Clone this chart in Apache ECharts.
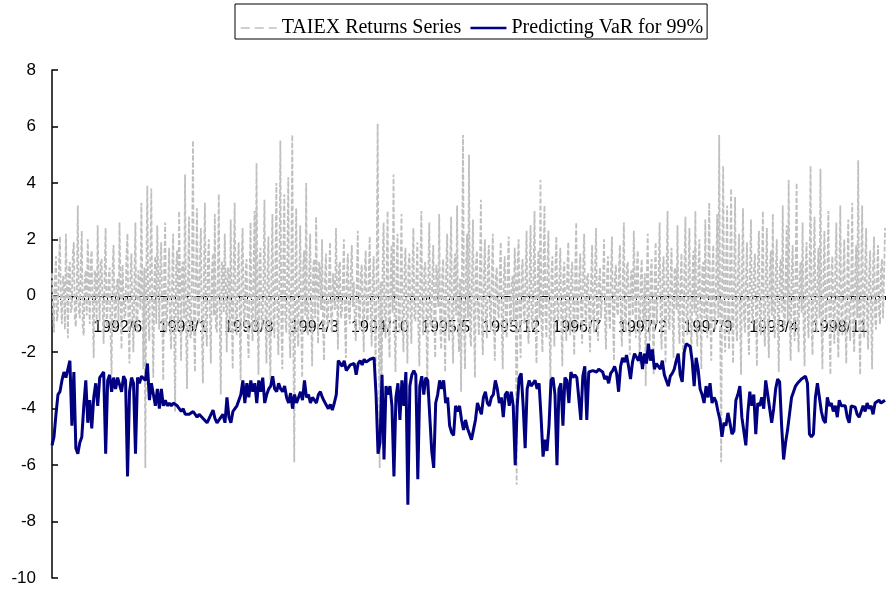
<!DOCTYPE html>
<html>
<head>
<meta charset="utf-8">
<script src="https://cdn.jsdelivr.net/npm/echarts@6/dist/echarts.min.js"></script>
<style>
  html, body { margin: 0; padding: 0; background: #fff; }
  #chart { width: 887px; height: 589px; }
</style>
</head>
<body>
<div id="chart"></div>
<script>
// labels shown under the zero line, one every 33 VaR points
const tickLabels = ['1992/6', '1993/1', '1993/8', '1994/3', '1994/10', '1995/5',
  '1995/12', '1996/7', '1997/2', '1997/9', '1998/4', '1998/11']
const labelStep = 33

// TAIEX daily returns (%)
const returnsSeries = [
  0.8, -0.4, -1.3, 0.6, 1.4, -0.9, -0.6, 1.1, 2.1, -0.3, -1.0, 0.7, 0.5, -1.2, 2.2, 0.4, -1.5, 0.9, 1.2, -0.6,
  -0.4, 1.5, 1.9, -0.8, -1.1, 0.3, 3.2, -0.5, -0.8, 1.0, 2.3, -1.2, -1.4, 0.6, 0.9, -0.7, 2.0, 0.5, -1.0, 1.3,
  1.6, -0.6, -2.2, 0.9, 0.7, -1.0, 2.5, 0.2, -0.9, 1.2, 1.3, -0.5, -1.7, 0.8, 2.4, -1.1, -0.5, 0.6, 1.0, -1.4,
  -2.8, 0.9, 1.8, -0.7, -1.2, 0.4, 0.6, -0.9, 2.6, 0.3, -1.9, 1.1, 1.1, -0.8, -0.7, 1.4, 2.2, -1.0, -2.4, 0.7,
  1.5, -0.8, -2.0, 0.6, 2.6, -1.1, -1.3, 0.9, 0.9, -0.5, 3.3, 0.4, -2.6, 1.0, -6.1, 0.8, 3.9, -0.9, -1.6, 1.2,
  3.8, -0.7, -2.9, 0.5, 1.4, -1.0, 2.5, 0.7, -1.2, 1.1, 1.9, -0.6, -3.0, 0.9, 2.6, -1.3, -0.8, 0.4, 1.7, -1.1,
  -1.9, 0.7, 2.2, -0.9, -4.1, 1.0, 1.6, -1.2, 3.0, 0.5, -2.3, 1.1, 1.2, -0.8, 4.3, -1.0, -3.3, 0.6, 2.8, -1.4,
  -1.5, 0.9, 5.5, -1.2, -2.7, 0.8, 3.1, -0.6, -1.0, 1.3, 2.4, -1.5, -3.1, 0.7, 3.3, -0.9, -1.8, 1.2, 2.0, -0.7,
  -2.4, 0.8, 1.5, -0.7, 2.9, -1.1, -1.3, 0.6, 3.6, -0.9, -3.5, 1.2, 1.1, -0.6, 2.2, 0.4, -2.0, 1.0, 0.8, -1.3,
  2.7, -0.5, -2.6, 1.1, 3.3, -1.0, -1.4, 0.7, 1.9, -0.8, -3.0, 1.3, 2.4, -0.6, -1.1, 0.9, 1.3, -1.2, -2.2, 0.6,
  2.6, -0.8, -1.6, 0.9, 3.0, -1.2, 4.7, -0.6, -2.8, 1.3, 1.7, -0.9, -1.2, 0.7, 3.4, -1.0, -2.4, 0.8, 2.1, -1.4,
  -3.0, 1.0, 2.9, -0.7, -1.5, 1.2, 4.0, -0.9, -2.1, 0.6, 5.5, -1.1, -2.6, 1.4, 3.6, -0.8, -1.3, 1.0, 4.2, -1.2,
  -2.2, 0.9, 5.7, -1.0, -5.9, 0.8, 3.1, -1.2, -1.8, 0.6, 2.5, -0.9, -2.9, 1.1, 1.6, -0.7, 4.0, -1.3, -1.4, 0.8,
  2.2, -0.6, -2.5, 1.0, 1.3, -0.8, 2.8, 0.5, -1.7, 1.2, 0.9, -0.5, 2.0, -1.1, -2.3, 0.7, 1.5, -0.9, -1.1, 0.6,
  1.9, -0.7, -1.3, 0.8, 0.8, -0.5, 2.4, 0.3, -1.9, 1.0, 1.2, -0.8, -0.6, 0.5, 2.0, -0.9, -2.2, 0.7, 1.5, -0.6,
  -1.0, 0.9, 1.8, -0.4, 0.5, -1.1, -1.6, 0.6, 2.3, -0.7, -1.2, 0.8, 1.1, -0.5, -2.0, 0.9, 1.6, -0.8, -0.9, 0.7,
  2.1, -0.8, -1.8, 0.6, 1.4, -0.9, -2.5, 1.0, 6.1, -0.7, -6.1, 0.5, -3.7, 1.1, 2.6, -0.9, -1.5, 0.8, 3.0, -1.1,
  -2.2, 0.7, 1.8, -0.6, 4.3, -1.2, -2.7, 1.0, 2.2, -0.8, -1.3, 0.6, 2.9, -1.0, -2.0, 0.9, 1.7, -0.7, -2.4, 1.1,
  1.5, -0.6, -1.7, 0.9, 2.4, -0.8, -0.9, 0.6, 1.9, -1.1, -2.5, 0.8, 3.0, -0.7, -1.4, 1.0, 1.2, -0.5, -3.5, 0.7,
  2.6, -1.0, -1.1, 0.6, 1.8, -0.9, -2.2, 1.1, 0.8, -0.4, 2.9, -1.2, -1.9, 0.7, 1.3, -0.8, -2.7, 0.9, 2.2, -0.6,
  -1.6, 0.8, 2.8, -0.9, -2.4, 1.0, 1.5, -0.7, 3.2, -1.1, -2.0, 0.6, -3.4, 1.2, 5.7, -1.0, -2.6, 0.9, 2.2, -0.8,
  5.0, -1.3, -1.8, 0.7, 2.7, -0.9, -2.9, 1.1, 1.6, -0.6, -1.4, 0.8, 3.4, -1.2, -2.1, 0.7, 2.0, -0.9, -1.5, 1.0,
  1.8, -0.6, -1.2, 0.8, 2.2, -0.9, -2.3, 0.7, 1.0, -0.5, -0.8, 0.9, 1.9, -1.1, -2.6, 0.6, 1.4, -0.8, -1.5, 1.0,
  2.1, -0.7, -1.1, 0.5, 0.7, -0.9, 1.7, 0.6, -6.7, 1.2, 2.0, -0.8, -2.2, 0.9, 1.3, -0.6, -1.0, 0.8, 2.3, -1.1,
  -1.7, 0.7, 2.5, -0.9, -1.2, 0.8, 3.0, -1.0, -2.4, 0.6, 1.6, -0.8, 4.1, -1.1, -2.0, 0.9, 3.2, -0.7, -1.5, 1.0,
  2.3, -1.2, -3.0, 0.8, 1.4, -0.6, -1.8, 0.9, 2.1, -0.7, -0.9, 0.6, 1.7, -1.0, -2.5, 0.8, 1.2, -0.6, -1.6, 0.9,
  1.9, -0.7, -1.4, 0.8, 1.2, -0.6, -2.1, 0.9, 2.6, -1.0, -0.9, 0.6, 1.5, -0.8, -1.7, 1.0, 2.2, -0.5, -1.1, 0.7,
  0.8, -0.9, -2.0, 0.6, 1.8, -0.7, -1.3, 0.9, 2.4, -1.0, -1.6, 0.5, 1.0, -0.8, -0.8, 0.6, 2.0, -0.9, -1.9, 0.7,
  1.4, -0.6, -1.2, 0.8, 2.1, -0.9, -2.3, 0.7, 1.1, -0.5, -0.7, 0.9, 1.8, -1.0, -1.8, 0.6, 2.6, -0.8, -1.3, 1.0,
  1.2, -0.6, -2.1, 0.8, 0.9, -0.7, 2.3, 0.5, -1.5, 0.9, 1.6, -0.8, -2.4, 0.7, 1.3, -0.6, -1.0, 0.8, -3.2, 0.6,
  2.2, -0.7, -1.6, 0.9, 1.3, -0.8, -2.8, 0.6, 1.9, -1.0, -1.0, 0.7, 2.6, -0.9, -1.9, 0.8, 1.4, -0.6, -2.4, 1.0,
  3.0, -1.1, -1.2, 0.7, 1.7, -0.8, -2.2, 0.9, 1.0, -0.5, 2.5, -0.9, -1.7, 0.6, 1.5, -0.8, -2.6, 1.1, 2.8, -0.7,
  -1.4, 0.8, 2.4, -0.9, -2.2, 0.7, 1.6, -0.6, 3.0, -1.1, -1.8, 0.9, 2.0, -0.7, -2.6, 1.0, 1.2, -0.8, 2.7, -0.6,
  -1.5, 1.1, 3.3, -0.9, -2.3, 0.8, 1.8, -0.7, -1.2, 1.0, 2.9, -0.8, 5.7, -1.0, -5.9, 0.9, 4.6, -0.7, -2.0, 1.2,
  3.2, -0.9, -1.9, 1.0, 3.8, -0.8, -2.4, 0.7, 3.5, -1.1, -1.6, 0.9, 2.2, -0.7, -2.8, 1.0, 3.1, -0.8, -1.3, 0.6,
  1.9, -1.0, -2.1, 0.8, 2.7, -0.6, -1.0, 0.9, 1.5, -0.7, -2.5, 1.1, 2.3, -0.9, -1.4, 0.7, 3.0, -1.0, -1.8, 0.8,
  2.4, -0.8, -2.2, 0.9, 1.6, -0.7, 2.9, -1.0, -1.5, 0.8, 2.0, -0.9, -2.7, 1.0, 1.3, -0.6, 3.2, -1.1, -1.2, 0.7,
  2.5, -0.9, 4.1, -1.0, -2.3, 0.8, 1.8, -0.7, -1.6, 1.0, 4.0, -0.9, -2.0, 0.8, 1.2, -0.6, 2.6, -1.1, -2.5, 0.9,
  1.9, -0.7, -1.5, 0.9, 4.6, -1.0, -2.1, 0.8, 2.8, -0.9, -1.3, 0.7, 1.7, -0.8, 4.5, -1.1, -2.6, 0.9, 2.3, -0.7,
  -1.0, 0.8, 3.0, -1.0, -2.8, 0.9, 1.4, -0.6, -1.7, 1.0, 2.6, -0.8, -2.2, 0.7, 3.2, -1.0, -1.4, 0.8, 2.0, -0.9,
  -2.4, 0.8, 2.7, -0.9, -1.6, 0.7, 3.3, -1.0, -2.0, 0.9, 1.8, -0.8, 4.8, -1.1, -2.8, 0.9, 3.2, -0.7, -1.5, 1.0,
  2.4, -0.9, -1.9, 0.8, 1.6, -0.7, -2.6, 1.0, 2.1, -0.8, -1.2, 0.7, 1.8, -0.6, -1.0, 0.9, 1.3, -0.8, 0.6, 2.4
]

// predicted 99% VaR
const varSeries = [
  -5.3, -5.0, -4.2, -3.5, -3.4, -3.0, -2.7, -2.9, -2.6, -2.3, -4.6, -2.7, -5.4, -5.6, -5.2, -5.0, -3.9, -3.0, -4.5, -3.7,
  -4.7, -3.6, -3.1, -3.9, -2.9, -2.8, -2.7, -5.6, -3.0, -2.8, -3.4, -2.9, -3.3, -2.9, -2.9, -3.4, -2.85, -3.0, -6.4, -3.4,
  -2.9, -3.1, -5.6, -2.9, -3.1, -2.85, -2.8, -3.0, -2.4, -3.7, -3.1, -3.5, -3.9, -3.3, -4.0, -3.3, -3.9, -3.7, -3.9, -3.8,
  -3.9, -3.8, -3.75, -3.9, -4.0, -4.1, -4.0, -4.2, -4.25, -4.2,
  -4.15, -4.1, -4.15, -4.3, -4.2, -4.2, -4.35, -4.4, -4.5, -4.35, -4.2, -4.05, -4.35, -4.5, -4.4, -4.3, -4.2, -4.5, -3.6, -4.3,
  -4.5, -4.1, -4.0, -3.9, -3.7, -3.5, -3.0, -3.8, -3.1, -3.6, -3.0, -3.4, -3.1, -3.8, -3.0, -3.4, -2.9, -3.8, -3.5, -3.3,
  -3.2, -2.85, -3.3, -3.4, -3.1, -3.3, -3.4, -3.2, -3.6, -3.8, -3.45, -4.0, -3.5, -3.8, -3.6, -3.4, -3.7, -3.0, -3.6, -3.5,
  -3.8, -3.6, -3.7, -3.8, -3.5, -3.4, -3.6, -3.75,
  -3.75, -4.0, -3.85, -4.05, -3.8, -3.5, -2.3, -2.25, -2.5, -2.3, -2.65, -2.7, -2.45, -2.5, -2.4, -2.8, -2.4, -2.3, -2.45, -2.25,
  -2.35, -2.3, -2.25, -2.25, -2.2, -3.5, -5.6, -5.2, -2.8, -5.8, -3.2, -3.5, -3.2, -3.9, -6.4, -3.6, -3.1, -4.4, -3.0, -3.9,
  -2.7, -7.4, -3.2, -2.8, -2.65, -2.8, -6.5, -3.2, -2.85, -3.5, -2.9, -3.0, -3.0, -5.5, -6.1, -3.8, -3.5, -3.0, -3.3, -3.0,
  -3.8, -3.6, -4.6, -4.85, -4.95, -3.9, -4.1, -3.9, -4.4, -4.75,
  -4.4, -4.7, -4.9, -5.1, -4.75, -4.4, -3.8, -4.0, -4.2, -3.6, -3.4, -3.8, -3.9, -3.6, -3.5, -3.0, -3.3, -3.8, -3.6, -4.3,
  -3.5, -3.4, -3.9, -3.4, -3.9, -6.0, -3.9, -2.9, -2.75, -3.9, -5.4, -3.3, -3.0, -3.2, -3.1, -3.0, -3.3, -3.1, -4.3, -5.7,
  -5.1, -5.5, -4.6, -3.0, -2.9, -3.5, -6.0, -3.3, -3.1, -4.6, -2.9, -3.0, -3.8, -2.7, -2.9, -2.8, -2.9, -2.85, -4.4, -2.85,
  -2.5, -4.4, -2.7, -2.7, -2.65, -2.6, -2.7, -2.6, -2.55,
  -2.7, -2.95, -2.85, -3.1, -2.75, -2.65, -2.5, -2.75, -3.4, -2.5, -2.2, -2.35, -2.1, -2.5, -2.95, -2.35, -2.05, -2.1, -2.3, -2.0,
  -2.6, -2.05, -2.4, -1.7, -2.3, -1.9, -2.6, -2.4, -2.5, -2.6, -2.3, -2.8, -3.0, -3.2, -2.85, -2.75, -2.6, -2.3, -2.05, -2.8,
  -3.05, -2.0, -1.7, -1.65, -1.8, -2.3, -3.2, -2.2, -2.6, -3.3, -3.5, -3.8, -3.2, -3.6, -3.1, -3.8, -3.6, -3.75, -4.1, -4.4,
  -5.0, -4.5, -4.6, -4.15, -4.5, -4.9, -4.8, -3.7, -3.5, -3.2,
  -4.3, -4.3, -5.3, -4.15, -3.4, -3.9, -3.5, -4.9, -3.8, -3.9, -3.6, -4.0, -3.0, -3.5, -4.0, -4.5, -4.0, -3.3, -2.95, -3.05,
  -4.6, -5.8, -5.2, -4.75, -4.8, -3.6, -3.4, -3.2, -3.1, -3.15, -2.95, -2.9, -2.85, -3.1, -4.9, -5.0, -4.9, -3.6, -3.1, -3.1,
  -4.1, -4.4, -4.5, -3.6, -3.9, -3.8, -4.1, -3.9, -4.3, -3.7, -3.9, -3.85, -3.9, -4.3, -4.5, -3.9, -3.85, -3.95, -4.2, -4.3,
  -4.1, -3.9, -4.1, -3.8, -4.0, -3.9, -4.2, -3.8, -3.85, -3.7, -3.8, -3.75, -3.7
]

const varCategories = varSeries.map((v, i) => {
  const k = i / labelStep
  return (i > 0 && Number.isInteger(k) && k <= tickLabels.length) ? tickLabels[k - 1] : ''
})
const returnCategories = returnsSeries.map((v, i) => String(i))

const chart = echarts.init(document.getElementById('chart'))
const option = {
  animation: false,
  backgroundColor: '#fff',
  legend: {
    left: 235,
    top: 4,
    padding: [14, 4, 1, 5],
    borderColor: '#000',
    borderWidth: 1,
    itemWidth: 36,
    itemHeight: 12,
    itemGap: 8,
    itemStyle: { opacity: 0 },
    textStyle: { fontFamily: 'Liberation Serif', fontSize: 20, color: '#000' },
    data: [
      { name: 'TAIEX Returns Series', lineStyle: { type: [9, 5], width: 1.5 } },
      { name: 'Predicting VaR for 99%', lineStyle: { width: 2.5 } }
    ]
  },
  grid: { left: 52, right: 2, top: 70, bottom: 11, containLabel: false, outerBoundsMode: 'none' },
  xAxis: [
    {
      // category axis drawn along y = 0, like the source's axis crossing
      type: 'category',
      data: varCategories,
      boundaryGap: false,
      position: 'bottom',
      offset: -282,
      axisLine: { onZero: false, lineStyle: { color: '#000', width: 1 } },
      axisTick: { interval: 1, length: 4, lineStyle: { color: '#000' } },
      axisLabel: {
        interval: 0,
        margin: 24,
        fontFamily: 'Liberation Sans',
        fontSize: 16,
        color: '#000'
      },
      splitLine: { show: false }
    },
    {
      type: 'category',
      data: returnCategories,
      boundaryGap: false,
      show: false
    }
  ],
  yAxis: {
    type: 'value',
    min: -10,
    max: 8,
    interval: 2,
    axisLine: { show: true, lineStyle: { color: '#000', width: 1.5 } },
    axisTick: { show: true, inside: true, length: 6, lineStyle: { color: '#000', width: 1.5 } },
    axisLabel: { margin: 16, fontFamily: 'Liberation Sans', fontSize: 17, color: '#000' },
    splitLine: { show: false }
  },
  series: [
    {
      name: 'TAIEX Returns Series',
      type: 'line',
      xAxisIndex: 1,
      data: returnsSeries,
      symbol: 'none',
      lineStyle: { color: '#c0c0c0', width: 1.8, type: [5, 2] },
      itemStyle: { color: '#c0c0c0' },
      z: 2
    },
    {
      name: 'Predicting VaR for 99%',
      type: 'line',
      xAxisIndex: 0,
      data: varSeries,
      symbol: 'none',
      lineStyle: { color: '#000080', width: 3 },
      itemStyle: { color: '#000080' },
      z: 3
    }
  ]
}
chart.setOption(option)
</script>
</body>
</html>
